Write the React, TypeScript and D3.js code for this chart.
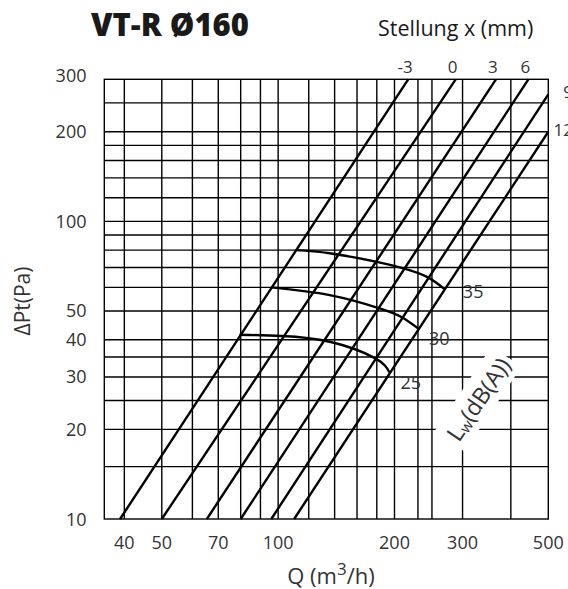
import {useEffect, useRef} from 'react';
import * as d3 from 'd3';

// grid lines (besides the frame)
const qGrid = [40, 50, 60, 70, 80, 90, 100, 120, 140, 160, 180, 200, 230, 250, 300, 400];
const pGrid = [15, 20, 25, 30, 35, 40, 50, 60, 70, 80, 90, 100, 120, 140, 160, 180, 200, 250];

const qTicks = [40, 50, 70, 100, 200, 300, 500];
const pTicks = [10, 20, 30, 40, 50, 100, 200, 300];

// Stellung x (mm): straight characteristic lines, start / end point [Q, dp]
const stellungen = ['-3', '0', '3', '6', '9', '12'];
const stellungStart: [number, number][] = [[39, 10], [50, 10], [65.4, 10], [80, 10], [96, 10], [110, 10]];
const stellungEnd: [number, number][] = [[217, 300], [288, 300], [366, 300], [444, 300], [500, 267], [500, 200]];

// sound power curves Lw dB(A)
const lwLevels = ['25', '30', '35'];
const lw25: [number, number][] = [[79.4, 41.6], [102, 41.2], [136, 39.4], [178, 34.7], [194, 31.1]];
const lw30: [number, number][] = [[96, 60], [136, 56.5], [183, 51], [209, 47.6], [230, 43.7]];
const lw35: [number, number][] = [[111, 80], [136, 78.1], [180, 73.1], [211, 69.5], [242, 65.2], [270, 59.1]];
const lwCurves = [lw25, lw30, lw35];
// label offset from the curve end, px
const lwLabelOffset: [number, number][] = [[11, 17], [11, 17], [18, 9]];

export default function App() {
  const svgRef = useRef<SVGSVGElement>(null);

  useEffect(() => {
    if (!svgRef.current) return;
    const width = 568;
    const height = 589;
    const svg = d3.select(svgRef.current);
    svg.selectAll('*').remove();
    svg.attr('width', width).attr('height', height).attr('viewBox', [0, 0, width, height]);

    const font = "'Open Sans', 'Noto Sans', sans-serif";
    const textColor = '#333';

    const x = d3.scaleLog().domain([35.5, 500]).range([104.3, 548.3]);
    const y = d3.scaleLog().domain([10, 300]).range([519, 79.3]);
    const [x0, x1] = x.range();
    const [y0, y1] = y.range();

    svg.append('rect').attr('width', width).attr('height', height).attr('fill', '#fff');

    const grid = svg.append('g').attr('stroke', '#000').attr('stroke-width', 1.4);
    grid
      .selectAll('.vx')
      .data(qGrid)
      .join('line')
      .attr('x1', (d) => x(d))
      .attr('x2', (d) => x(d))
      .attr('y1', y0)
      .attr('y2', y1);
    grid
      .selectAll('.hy')
      .data(pGrid)
      .join('line')
      .attr('x1', x0)
      .attr('x2', x1)
      .attr('y1', (d) => y(d))
      .attr('y2', (d) => y(d));
    grid
      .append('rect')
      .attr('x', x0)
      .attr('y', y1)
      .attr('width', x1 - x0)
      .attr('height', y0 - y1)
      .attr('fill', 'none');

    // rotated Lw label with white box behind it
    const lwG = svg.append('g').attr('transform', 'translate(478,399) rotate(-56)');
    const lwText = lwG
      .append('text')
      .attr('text-anchor', 'middle')
      .attr('dominant-baseline', 'central')
      .attr('font-family', font)
      .attr('font-size', 23)
      .attr('fill', textColor);
    lwText.append('tspan').text('L');
    lwText.append('tspan').attr('font-size', 15).attr('dy', 5).text('w');
    lwText.append('tspan').attr('dy', -5).text('(dB(A))');
    const bb = (lwText.node() as SVGTextElement).getBBox();
    lwG
      .insert('rect', 'text')
      .attr('x', bb.x - 4)
      .attr('y', bb.y - 2)
      .attr('width', bb.width + 8)
      .attr('height', bb.height + 4)
      .attr('fill', '#fff');

    // Stellung lines
    svg
      .append('g')
      .selectAll('line')
      .data(stellungen)
      .join('line')
      .attr('x1', (d, i) => x(stellungStart[i][0]))
      .attr('y1', (d, i) => y(stellungStart[i][1]))
      .attr('x2', (d, i) => x(stellungEnd[i][0]))
      .attr('y2', (d, i) => y(stellungEnd[i][1]))
      .attr('stroke', '#000')
      .attr('stroke-width', 2.4);

    svg
      .append('g')
      .selectAll('text')
      .data(stellungen)
      .join('text')
      .attr('font-family', font)
      .attr('font-size', 17)
      .attr('fill', textColor)
      .attr('text-anchor', (d, i) => (stellungEnd[i][0] >= 500 ? 'end' : 'middle'))
      .attr('x', (d, i) => (stellungEnd[i][0] >= 500 ? 573 : x(stellungEnd[i][0]) - 3))
      .attr('y', (d, i) => (stellungEnd[i][0] >= 500 ? y(stellungEnd[i][1]) + 4 : y1 - 6))
      .text((d) => d);

    // Lw curves
    const line = d3
      .line<[number, number]>()
      .x((d) => x(d[0]))
      .y((d) => y(d[1]))
      .curve(d3.curveNatural);
    svg
      .append('g')
      .selectAll('path')
      .data(lwCurves)
      .join('path')
      .attr('d', (d) => line(d))
      .attr('fill', 'none')
      .attr('stroke', '#000')
      .attr('stroke-width', 2.4);

    svg
      .append('g')
      .selectAll('text')
      .data(lwLevels)
      .join('text')
      .attr('font-family', font)
      .attr('font-size', 18)
      .attr('fill', textColor)
      .attr('x', (d, i) => x(lwCurves[i][lwCurves[i].length - 1][0]) + lwLabelOffset[i][0])
      .attr('y', (d, i) => y(lwCurves[i][lwCurves[i].length - 1][1]) + lwLabelOffset[i][1])
      .text((d) => d);

    // tick labels
    svg
      .append('g')
      .selectAll('text')
      .data(qTicks)
      .join('text')
      .attr('font-family', font)
      .attr('font-size', 18)
      .attr('fill', textColor)
      .attr('text-anchor', 'middle')
      .attr('x', (d) => x(d))
      .attr('y', 549)
      .text((d) => d);

    svg
      .append('g')
      .selectAll('text')
      .data(pTicks)
      .join('text')
      .attr('font-family', font)
      .attr('font-size', 18)
      .attr('fill', textColor)
      .attr('text-anchor', 'end')
      .attr('x', 86.5)
      .attr('y', (d) => (d === 300 ? y(d) - 4 : y(d)) + 6.5)
      .text((d) => d);

    // axis titles
    const qTitle = svg
      .append('text')
      .attr('font-family', font)
      .attr('font-size', 22)
      .attr('fill', textColor)
      .attr('text-anchor', 'middle')
      .attr('x', 331)
      .attr('y', 584);
    qTitle.append('tspan').text('Q (m');
    qTitle.append('tspan').attr('font-size', 17).attr('dy', -9).text('3');
    qTitle.append('tspan').attr('dy', 9).text('/h)');

    svg
      .append('text')
      .attr('font-family', font)
      .attr('font-size', 21)
      .attr('fill', textColor)
      .attr('text-anchor', 'middle')
      .attr('transform', 'translate(30,301) rotate(-90)')
      .text('\u0394Pt(Pa)');

    svg
      .append('text')
      .attr('font-family', font)
      .attr('font-size', 31)
      .attr('font-weight', 800)
      .attr('fill', '#1a1a1a')
      .attr('x', 91)
      .attr('y', 36)
      .text('VT-R \u00D8160');

    svg
      .append('text')
      .attr('font-family', font)
      .attr('font-size', 21.5)
      .attr('fill', '#1a1a1a')
      .attr('x', 378)
      .attr('y', 36)
      .text('Stellung x (mm)');
  }, []);

  return (
    <div>
      <svg ref={svgRef} style={{position: 'absolute', left: 0, top: 0, display: 'block'}} />
    </div>
  );
}
